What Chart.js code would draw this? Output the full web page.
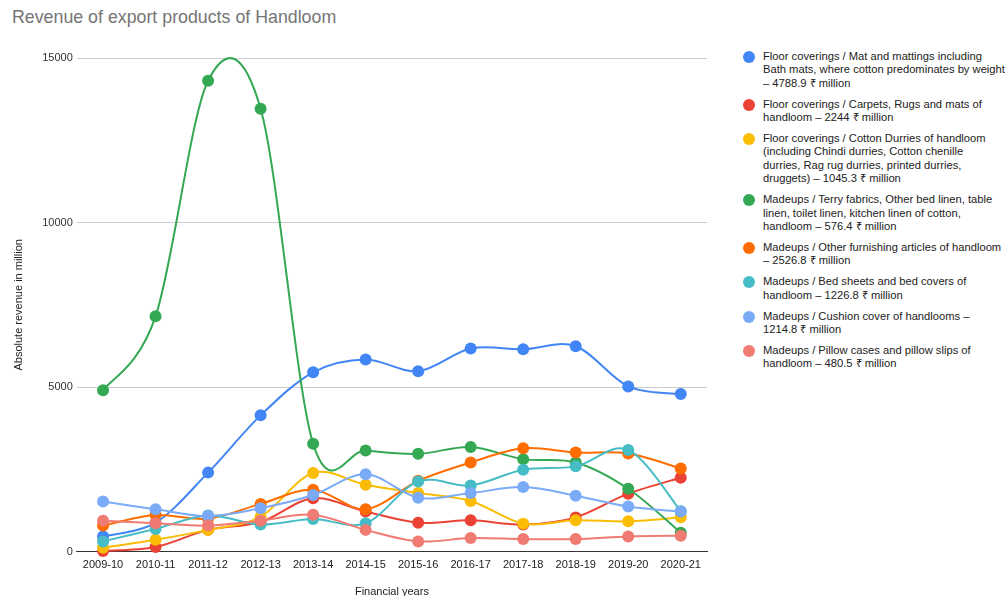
<!DOCTYPE html>
<html>
<head>
<meta charset="utf-8">
<script src="https://cdn.jsdelivr.net/npm/chart.js@4.4.0/dist/chart.umd.min.js"></script>
<style>
  html, body { margin: 0; padding: 0; background: #fff; }
  body { width: 1006px; height: 596px; position: relative; overflow: hidden;
         font-family: "Liberation Sans", Arial, sans-serif; }
  #title { position: absolute; left: 12px; top: 7px; font-size: 17.8px; color: #757575; }
  #wrap { position: absolute; left: 0; top: 0; width: 725px; height: 599px; }
  #legend { position: absolute; left: 742px; top: 50px; width: 264px; }
  .item { display: flex; align-items: flex-start; margin-bottom: 7.5px; }
  .dot { width: 12px; height: 12px; border-radius: 50%; flex: none; margin: 1px 8px 0 1px; }
  .txt { font-size: 11.2px; line-height: 13.4px; color: #222; white-space: pre-line; }
</style>
</head>
<body>
<div id="title">Revenue of export products of Handloom</div>
<div id="wrap"><canvas id="chart"></canvas></div>
<div id="legend"></div>
<script>
const years = ["2009-10", "2010-11", "2011-12", "2012-13", "2013-14", "2014-15",
  "2015-16", "2016-17", "2017-18", "2018-19", "2019-20", "2020-21"];

const matsBath = [460, 880, 2400, 4140, 5450, 5840, 5480, 6170, 6150, 6240, 5020, 4789];
const carpetsRugs = [20, 140, 660, 900, 1620, 1220, 880, 950, 820, 1040, 1760, 2244];
const cottonDurries = [120, 360, 660, 1060, 2390, 2030, 1780, 1540, 850, 950, 920, 1045];
const terryFabrics = [4900, 7150, 14310, 13460, 3280, 3070, 2970, 3180, 2810, 2710, 1910, 576];
const otherFurnishing = [790, 1110, 1000, 1450, 1880, 1290, 2150, 2710, 3140, 3010, 2980, 2527];
const bedSheets = [310, 690, 1100, 820, 990, 860, 2130, 2010, 2490, 2590, 3090, 1227];
const cushionCover = [1520, 1290, 1080, 1320, 1720, 2350, 1640, 1780, 1960, 1700, 1370, 1215];
const pillowCases = [940, 860, 790, 940, 1120, 660, 310, 410, 380, 380, 460, 481];

// line breaks as wrapped in the original legend
const seriesLabels = [
  "Floor coverings / Mat and mattings including\nBath mats, where cotton predominates by weight\n– 4788.9 ₹ million",
  "Floor coverings / Carpets, Rugs and mats of\nhandloom – 2244 ₹ million",
  "Floor coverings / Cotton Durries of handloom\n(including Chindi durries, Cotton chenille\ndurries, Rag rug durries, printed durries,\ndruggets) – 1045.3 ₹ million",
  "Madeups / Terry fabrics, Other bed linen, table\nlinen, toilet linen, kitchen linen of cotton,\nhandloom – 576.4 ₹ million",
  "Madeups / Other furnishing articles of handloom\n– 2526.8 ₹ million",
  "Madeups / Bed sheets and bed covers of\nhandloom – 1226.8 ₹ million",
  "Madeups / Cushion cover of handlooms –\n1214.8 ₹ million",
  "Madeups / Pillow cases and pillow slips of\nhandloom – 480.5 ₹ million"
];
const seriesData = [matsBath, carpetsRugs, cottonDurries, terryFabrics,
  otherFurnishing, bedSheets, cushionCover, pillowCases];
const colors = ["#4285f4", "#ea4335", "#fbbc04", "#34a853",
  "#ff6d01", "#46bdc6", "#7baaf7", "#f07b72"];

const yTicks = [0, 5000, 10000, 15000];

// html legend, the canvas one can't wrap long labels
const legend = document.getElementById("legend");
seriesLabels.forEach((label, i) => {
  const item = document.createElement("div");
  item.className = "item";
  const dot = document.createElement("span");
  dot.className = "dot";
  dot.style.background = colors[i];
  const txt = document.createElement("span");
  txt.className = "txt";
  txt.textContent = label;
  item.append(dot, txt);
  legend.appendChild(item);
});

// plain catmull-rom smoothing (chart.js weights tangents by distance, the original doesn't)
const catmullRom = {
  id: "catmullRom",
  afterDatasetUpdate(chart, args) {
    const pts = args.meta.data;
    pts.forEach((p, i) => {
      const prev = pts[Math.max(i - 1, 0)];
      const next = pts[Math.min(i + 1, pts.length - 1)];
      const dx = (next.x - prev.x) / 6;
      const dy = (next.y - prev.y) / 6;
      p.cp1x = p.x - dx;
      p.cp1y = p.y - dy;
      p.cp2x = p.x + dx;
      p.cp2y = p.y + dy;
    });
    args.meta.dataset._pointsUpdated = true;
  }
};

// later series sit on top, like the original
const datasets = seriesData.map((values, i) => ({
  label: seriesLabels[i].replace(/\n/g, " "),
  data: values,
  borderColor: colors[i],
  backgroundColor: colors[i],
  borderWidth: 2,
  pointRadius: 6,
  pointHoverRadius: 7,
  pointBorderWidth: 0,
  tension: 0.4,
  clip: false,
  order: seriesData.length - 1 - i
}));

const tickFont = { size: 11, family: "Liberation Sans, Arial" };

new Chart(document.getElementById("chart"), {
  type: "line",
  data: { labels: years, datasets },
  plugins: [catmullRom],
  options: {
    responsive: true,
    maintainAspectRatio: false,
    animation: false,
    layout: { padding: { top: 58, right: 18, left: 12, bottom: 0 } },
    plugins: {
      legend: { display: false },
      tooltip: { enabled: true }
    },
    scales: {
      x: {
        offset: true,
        grid: { display: false, drawTicks: false },
        border: { color: "#333", width: 1 },
        ticks: { color: "#222", font: tickFont, maxRotation: 0, padding: 7 },
        title: { display: true, text: "Financial years", color: "#222", font: tickFont, padding: { top: 7, bottom: 0 } }
      },
      y: {
        min: 0,
        max: 15000,
        afterBuildTicks: (axis) => { axis.ticks = yTicks.map((v) => ({ value: v })); },
        grid: { color: "#cccccc", drawTicks: false },
        border: { display: false },
        ticks: { color: "#333", font: tickFont, padding: 4, callback: (v) => String(v) },
        title: { display: true, text: "Absolute revenue in million", color: "#222", font: tickFont, padding: { top: 0, bottom: 13 } }
      }
    }
  }
});
</script>
</body>
</html>
